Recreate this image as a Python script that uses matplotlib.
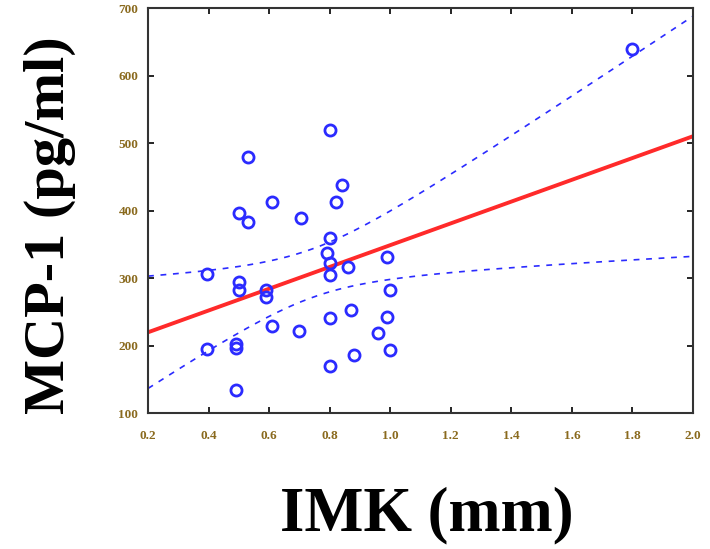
import numpy as np
import matplotlib
matplotlib.use("Agg")
import matplotlib.pyplot as plt

# --- dati ---
imk = [1.80, 0.80, 0.53, 0.84, 0.61, 0.82, 0.50, 0.53, 0.705, 0.80,
       0.79, 0.80, 0.86, 0.99, 0.80, 0.395, 0.50, 0.50, 0.59, 0.59,
       1.00, 0.80, 0.87, 0.99, 0.61, 0.70, 0.96, 0.395, 0.49, 0.49,
       1.00, 0.88, 0.80, 0.49]
mcp1 = [640, 520, 479, 438, 413, 413, 396, 383, 389, 359,
        337, 322, 316, 331, 304, 306, 294, 282, 282, 272,
        282, 241, 253, 242, 229, 221, 219, 195, 202, 196,
        193, 186, 170, 134]

x_ticks = [0.2, 0.4, 0.6, 0.8, 1.0, 1.2, 1.4, 1.6, 1.8, 2.0]
y_ticks = [100, 200, 300, 400, 500, 600, 700]

BLUE = "#2b2bff"
RED = "#ff2a2a"
TICK_COL = "#8a6a1e"

x = np.array(imk)
y = np.array(mcp1)
n = len(x)

# regressione lineare + banda di confidenza 95%
slope, intercept = np.polyfit(x, y, 1)
xs = np.linspace(0.2, 2.0, 200)
fit = intercept + slope * xs
resid = y - (intercept + slope * x)
s = np.sqrt(np.sum(resid ** 2) / (n - 2))
t_val = 2.037
se = s * np.sqrt(1 / n + (xs - x.mean()) ** 2 / np.sum((x - x.mean()) ** 2))

fig = plt.figure(figsize=(7.1, 5.49), dpi=100)
ax = fig.add_axes([0.2085, 0.2477, 0.7675, 0.7377])

ax.plot(xs, fit + t_val * se, "--", color=BLUE, lw=1.2, dashes=(3.5, 4))
ax.plot(xs, fit - t_val * se, "--", color=BLUE, lw=1.2, dashes=(3.5, 4))
ax.plot(xs, fit, color=RED, lw=2.8)
ax.plot(x, y, "o", mfc="none", mec=BLUE, ms=8, mew=2)

ax.set_xlim(0.2, 2.0)
ax.set_ylim(100, 700)
ax.set_xticks(x_ticks)
ax.set_yticks(y_ticks)
ax.set_xticklabels([f"{v:.1f}" for v in x_ticks])
ax.set_yticklabels([str(v) for v in y_ticks])
ax.tick_params(direction="in", length=4, width=1.2, top=True, right=True,
               labelsize=9.5, labelcolor=TICK_COL)
ax.tick_params(axis="x", pad=12)
ax.tick_params(axis="y", pad=7)
for lab in ax.get_xticklabels() + ax.get_yticklabels():
    lab.set_family("Liberation Serif")
    lab.set_fontweight("bold")
for sp in ax.spines.values():
    sp.set_linewidth(1.5)
    sp.set_color("#333333")

fig.text(0.601, 0.062, "IMK (mm)", ha="center", va="center",
         fontsize=45, fontweight="bold", family="Liberation Serif")
fig.text(0.07, 0.59, "MCP-1 (pg/ml)", ha="center", va="center", rotation=90,
         fontsize=42, fontweight="bold", family="Liberation Serif")

fig.savefig("out.png", dpi=100, facecolor="white")
